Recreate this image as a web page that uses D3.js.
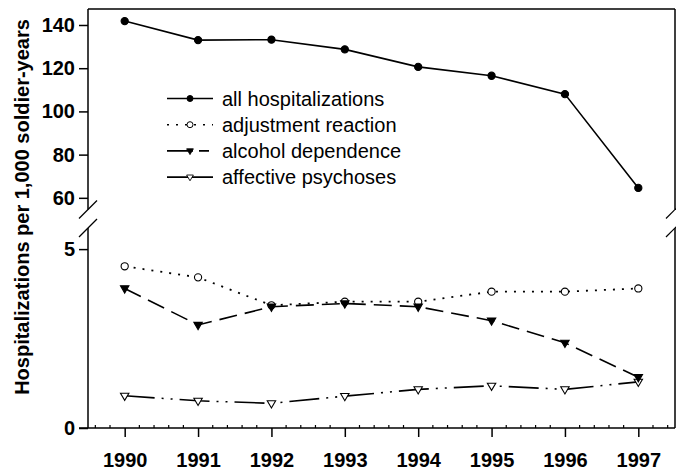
<!DOCTYPE html>
<html>
<head>
<meta charset="utf-8">
<script src="https://cdn.jsdelivr.net/npm/d3@7"></script>
<style>
  body { margin: 0; background: #fff; }
  text { font-family: Arial, "Liberation Sans", sans-serif; fill: #000; }
  .tickText { font-size: 20px; font-weight: bold; }
  .legendText { font-size: 20px; }
</style>
</head>
<body>
<script>
// data
var years = [1990, 1991, 1992, 1993, 1994, 1995, 1996, 1997];
var allHosp = [141.8, 133.0, 133.2, 128.7, 120.6, 116.5, 108.0, 64.6];
var adjustment = [4.52, 4.21, 3.43, 3.53, 3.53, 3.81, 3.81, 3.90];
var alcohol = [3.90, 2.88, 3.39, 3.48, 3.39, 3.00, 2.38, 1.42];
var affective = [0.90, 0.76, 0.69, 0.89, 1.08, 1.18, 1.08, 1.29];
var seriesNames = ["all hospitalizations", "adjustment reaction", "alcohol dependence", "affective psychoses"];
var upperTicks = [60, 80, 100, 120, 140];
var lowerTicks = [0, 5];

// dimensions
var svgWidth = 676;
var svgHeight = 471;
var plotLeft = 88, plotRight = 675, plotTop = 9, plotBottom = 428;
var upperBottom = 209.5, lowerTop = 228;

var svg = d3.select("body").append("svg")
  .attr("width", svgWidth)
  .attr("height", svgHeight);

// scales
var x = d3.scaleLinear().domain([1989.5, 1997.5]).range([plotLeft, plotRight]);
var yUpper = d3.scaleLinear().domain([54.6, 147.4]).range([upperBottom, plotTop]);
var yLower = d3.scaleLinear().domain([0, 5.59]).range([plotBottom, lowerTop]);

// frame lines
var frame = svg.append("g").attr("stroke", "#000").attr("stroke-width", 1.5);
[plotLeft, plotRight].forEach(function(xx) {
  frame.append("line").attr("x1", xx).attr("x2", xx).attr("y1", plotTop).attr("y2", upperBottom);
  frame.append("line").attr("x1", xx).attr("x2", xx).attr("y1", lowerTop).attr("y2", plotBottom);
  // break marks
  [upperBottom, lowerTop].forEach(function(yy) {
    frame.append("line")
      .attr("x1", xx - 9).attr("y1", yy + 9)
      .attr("x2", xx + 9).attr("y2", yy - 9)
      .attr("stroke-width", 1.2);
  });
});
frame.append("line").attr("x1", plotLeft).attr("x2", plotRight).attr("y1", plotTop).attr("y2", plotTop);

// axes
var leftUpper = d3.axisLeft(yUpper).tickValues(upperTicks).tickFormat(d3.format("d")).tickSize(9).tickPadding(4);
var leftLower = d3.axisLeft(yLower).tickValues(lowerTicks).tickFormat(d3.format("d")).tickSize(9).tickPadding(4);
var bottomAxis = d3.axisBottom(x).tickValues(years).tickFormat(d3.format("d")).tickSize(9).tickPadding(16);

[leftUpper, leftLower].forEach(function(ax) {
  var g = svg.append("g")
    .attr("transform", `translate(${plotLeft}, 0)`)
    .call(ax);
  g.select(".domain").remove();
  g.selectAll("line").attr("stroke", "#000").attr("stroke-width", 1.5);
  g.selectAll("text").attr("class", "tickText").attr("font-family", null).attr("font-size", null);
});

var xg = svg.append("g")
  .attr("transform", `translate(0, ${plotBottom})`)
  .call(bottomAxis);
xg.select(".domain").remove();
xg.selectAll("line").attr("stroke", "#000").attr("stroke-width", 1.5);
xg.selectAll("text").attr("class", "tickText").attr("font-family", null).attr("font-size", null);

// bottom axis line (extends under the 0 tick)
svg.append("line")
  .attr("x1", plotLeft - 9).attr("x2", plotRight)
  .attr("y1", plotBottom).attr("y2", plotBottom)
  .attr("stroke", "#000").attr("stroke-width", 1.5);

// minor x ticks
var minor = d3.range(0, 40).map(i => 1989.6 + i * 0.2)
  .filter(v => Math.abs(v - Math.round(v)) > 1e-6 && v < 1997.5);
svg.selectAll(".minor").data(minor).enter().append("line")
  .attr("class", "minor")
  .attr("x1", d => x(d)).attr("x2", d => x(d))
  .attr("y1", plotBottom).attr("y2", plotBottom - 3)
  .attr("stroke", "#000").attr("stroke-width", 1.2);

// y title
svg.append("text")
  .attr("transform", "translate(29, 207) rotate(-90)")
  .attr("text-anchor", "middle")
  .attr("font-size", "20px")
  .attr("font-weight", "bold")
  .text("Hospitalizations per 1,000 soldier-years");

// series
var triPath = "M-4.2,-2.6L4.2,-2.6L0,4.6Z";
var series = [
  { name: seriesNames[0], values: allHosp, y: yUpper, dash: null, legendDash: null, marker: "circle", fill: "#000" },
  { name: seriesNames[1], values: adjustment, y: yLower, dash: "2,7", legendDash: "2,7", marker: "circle", fill: "#fff" },
  { name: seriesNames[2], values: alcohol, y: yLower, dash: "18,8", legendDash: "26,6,10", marker: "tri", fill: "#000" },
  { name: seriesNames[3], values: affective, y: yLower, dash: "30,7,2,7,2,7", legendDash: null, marker: "tri", fill: "#fff" }
];

var lines = svg.append("g");
var markers = svg.append("g");

series.forEach(function(s) {
  var line = d3.line()
    .x((d, i) => x(years[i]))
    .y(d => s.y(d));
  lines.append("path")
    .datum(s.values)
    .attr("d", line)
    .attr("fill", "none")
    .attr("stroke", "#000")
    .attr("stroke-width", s.dash === "2,7" ? 1.8 : 1.6)
    .attr("stroke-dasharray", s.dash);
});

// markers: open circles first, triangles on top
[series[1], series[3], series[2], series[0]].forEach(function(s) {
  var pts = markers.selectAll(null).data(s.values).enter();
  if (s.marker === "circle") {
    pts.append("circle")
      .attr("cx", (d, i) => x(years[i]))
      .attr("cy", d => s.y(d))
      .attr("r", 3.6)
      .attr("fill", s.fill)
      .attr("stroke", "#000")
      .attr("stroke-width", 1.1);
  } else {
    pts.append("path")
      .attr("d", triPath)
      .attr("transform", (d, i) => `translate(${x(years[i])}, ${s.y(d)})`)
      .attr("fill", s.fill)
      .attr("stroke", "#000")
      .attr("stroke-width", 1.1);
  }
});

// legend
var legend = svg.append("g");
series.forEach(function(s, i) {
  var ly = 98.5 + i * 26.2;
  legend.append("line")
    .attr("x1", 167).attr("x2", 213)
    .attr("y1", ly).attr("y2", ly)
    .attr("stroke", "#000")
    .attr("stroke-width", 1.6)
    .attr("stroke-dasharray", s.legendDash);
  if (s.marker === "circle") {
    legend.append("circle")
      .attr("cx", 190).attr("cy", ly).attr("r", 3)
      .attr("fill", s.fill).attr("stroke", "#000").attr("stroke-width", 1);
  } else {
    legend.append("path")
      .attr("d", triPath)
      .attr("transform", `translate(190, ${ly}) scale(0.8)`)
      .attr("fill", s.fill).attr("stroke", "#000").attr("stroke-width", 1.1);
  }
  legend.append("text")
    .attr("class", "legendText")
    .attr("x", 222)
    .attr("y", ly)
    .attr("dy", "0.35em")
    .text(s.name);
});
</script>
</body>
</html>
